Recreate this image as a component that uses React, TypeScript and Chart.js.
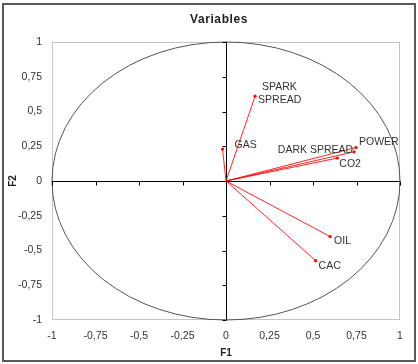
import React, { useEffect, useRef } from "react";
import { Chart, registerables } from "chart.js";

Chart.register(...registerables);

const variables = ["SPARK SPREAD", "GAS", "DARK SPREAD", "POWER", "CO2", "OIL", "CAC"];
const f1Values = [0.167, -0.02, 0.736, 0.747, 0.64, 0.598, 0.515];
const f2Values = [0.61, 0.23, 0.21, 0.241, 0.165, -0.4, -0.573];
const tickValues = [-1, -0.75, -0.5, -0.25, 0, 0.25, 0.5, 0.75, 1];

const FONT = "'Liberation Sans', Arial, sans-serif";

// label placement styles (pixel offsets from the point, alignment, line split)
const labelStyles: Record<string, { dx: number; dy: number; align: CanvasTextAlign; lines?: { t: string; dx: number; dy: number }[] }> = {
  "SPARK SPREAD": { dx: 0, dy: 0, align: "left", lines: [{ t: "SPARK", dx: 7, dy: -9 }, { t: "SPREAD", dx: 3, dy: 4 }] },
  GAS: { dx: 12, dy: -4, align: "left" },
  "DARK SPREAD": { dx: -1, dy: -2, align: "right" },
  POWER: { dx: 3, dy: -5, align: "left" },
  CO2: { dx: 2, dy: 6, align: "left" },
  OIL: { dx: 4, dy: 5, align: "left" },
  CAC: { dx: 3, dy: 5, align: "left" },
};

const fmt = (v: number) => String(v).replace(".", ",");

const decorPlugin = {
  id: "decor",
  beforeDatasetsDraw(chart: any) {
    const { ctx, chartArea, scales } = chart;
    const xs = scales.x;
    const ys = scales.y;
    ctx.save();
    // plot area border
    ctx.strokeStyle = "#c4c4c4";
    ctx.lineWidth = 1;
    ctx.strokeRect(chartArea.left + 0.5, chartArea.top + 0.5, chartArea.right - chartArea.left - 1, chartArea.bottom - chartArea.top - 1);
    // correlation circle
    const cx = xs.getPixelForValue(0);
    const cy = ys.getPixelForValue(0);
    const rx = xs.getPixelForValue(1) - cx;
    const ry = cy - ys.getPixelForValue(1);
    ctx.strokeStyle = "#555";
    ctx.beginPath();
    ctx.ellipse(cx, cy, rx, ry, 0, 0, Math.PI * 2);
    ctx.stroke();
    // axes through origin
    ctx.strokeStyle = "#000";
    ctx.beginPath();
    const vx = Math.round(cx) + 0.5;
    const hy = Math.round(cy) + 0.5;
    ctx.moveTo(vx, chartArea.top);
    ctx.lineTo(vx, chartArea.bottom);
    ctx.moveTo(chartArea.left, hy);
    ctx.lineTo(chartArea.right, hy);
    for (const t of tickValues) {
      const py = Math.round(ys.getPixelForValue(t)) + 0.5;
      ctx.moveTo(vx - 4, py);
      ctx.lineTo(vx, py);
      const px = Math.round(xs.getPixelForValue(t)) + 0.5;
      ctx.moveTo(px, hy);
      ctx.lineTo(px, hy + 4);
    }
    ctx.stroke();
    ctx.restore();
  },
  afterDraw(chart: any) {
    const { ctx, scales, width, height } = chart;
    const xs = scales.x;
    const ys = scales.y;
    ctx.save();
    // outer frame
    ctx.strokeStyle = "#5a5a5a";
    ctx.lineWidth = 2;
    ctx.strokeRect(3, 4, width - 6, height - 7);
    // title
    ctx.fillStyle = "#222";
    ctx.font = `bold 12px ${FONT}`;
    (ctx as any).letterSpacing = "0.6px";
    ctx.textAlign = "center";
    ctx.textBaseline = "middle";
    ctx.fillText("Variables", 219, 20);
    (ctx as any).letterSpacing = "0px";
    // axis titles
    ctx.font = `bold 10px ${FONT}`;
    ctx.fillText("F1", xs.getPixelForValue(0), 353);
    ctx.save();
    ctx.translate(13, ys.getPixelForValue(0));
    ctx.rotate(-Math.PI / 2);
    ctx.fillText("F2", 0, 0);
    ctx.restore();
    // point labels
    ctx.font = `10.5px ${FONT}`;
    ctx.fillStyle = "#333";
    ctx.textBaseline = "middle";
    variables.forEach((name, i) => {
      const px = xs.getPixelForValue(f1Values[i]);
      const py = ys.getPixelForValue(f2Values[i]);
      const s = labelStyles[name];
      ctx.textAlign = s.align;
      if (s.lines) {
        s.lines.forEach((l) => ctx.fillText(l.t, px + l.dx, py + l.dy));
      } else {
        ctx.fillText(name, px + s.dx, py + s.dy);
      }
    });
    ctx.restore();
  },
};

export default function App() {
  const ref = useRef<HTMLCanvasElement>(null);
  useEffect(() => {
    document.body.style.margin = "0";
    const datasets = variables.map((name, i) => ({
      label: name,
      data: [
        { x: 0, y: 0 },
        { x: f1Values[i], y: f2Values[i] },
      ],
      showLine: true,
      borderColor: "rgba(255,0,0,0.85)",
      backgroundColor: "#ff0000",
      borderWidth: 1,
      pointRadius: [0, 1.6],
      pointBorderWidth: 0,
    }));
    const chart = new Chart(ref.current!, {
      type: "scatter",
      data: { datasets },
      options: {
        animation: false,
        responsive: false,
        layout: { padding: { left: 0, top: 42, right: 18, bottom: 0 } },
        plugins: { legend: { display: false }, tooltip: { enabled: false }, title: { display: false } },
        scales: {
          x: {
            type: "linear",
            min: -1,
            max: 1,
            grid: { display: false, drawTicks: false },
            border: { display: false },
            afterBuildTicks: (s: any) => {
              s.ticks = tickValues.map((v) => ({ value: v }));
            },
            afterFit: (s: any) => {
              s.height = 44;
            },
            ticks: {
              padding: 10,
              color: "#333",
              font: { family: FONT, size: 10.5 },
              callback: (v: any) => fmt(Number(v)),
            },
          },
          y: {
            type: "linear",
            min: -1,
            max: 1,
            grid: { display: false, drawTicks: false },
            border: { display: false },
            afterBuildTicks: (s: any) => {
              s.ticks = tickValues.map((v) => ({ value: v }));
            },
            afterFit: (s: any) => {
              s.width = 52;
            },
            ticks: {
              padding: 10,
              color: "#333",
              font: { family: FONT, size: 10.5 },
              callback: (v: any) => fmt(Number(v)),
            },
          },
        },
      },
      plugins: [decorPlugin],
    });
    return () => chart.destroy();
  }, []);
  return (
    <div style={{ width: 418, height: 364, background: "#fff" }}>
      <canvas ref={ref} width={418} height={364} style={{ display: "block" }} />
    </div>
  );
}
